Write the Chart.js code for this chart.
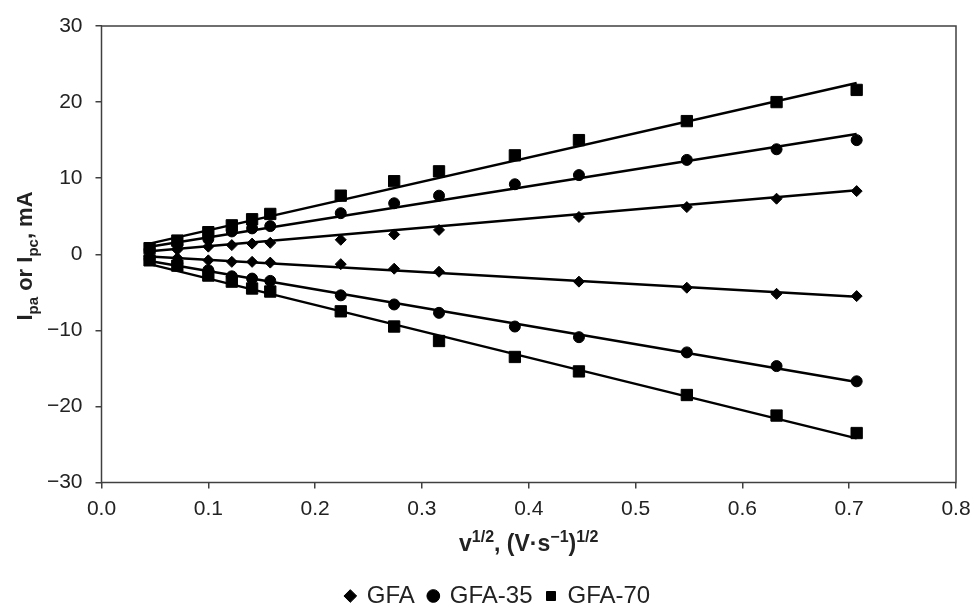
<!DOCTYPE html>
<html lang="en">
<head>
<meta charset="UTF-8">
<title>Ipa or Ipc vs v1/2</title>
<script src="https://cdn.jsdelivr.net/npm/chart.js@4"></script>
<style>
  body { margin: 0; background: #fff; }
  #wrap { width: 974px; height: 610px; }
</style>
</head>
<body>
<div id="wrap"><canvas id="myChart" width="974" height="610"></canvas></div>
<script>
// square root of scan rate, (V/s)^1/2
const xAll = [0.045, 0.071, 0.1, 0.122, 0.141, 0.158, 0.224, 0.274, 0.316, 0.387, 0.447, 0.548, 0.632, 0.707];
const xGfa = [0.045, 0.071, 0.1, 0.122, 0.141, 0.158, 0.224, 0.274, 0.316, 0.447, 0.548, 0.632, 0.707];

// peak currents, mA
const gfaIpa = [0.3, 0.6, 1.0, 1.2, 1.4, 1.5, 1.9, 2.6, 3.2, 4.9, 6.2, 7.3, 8.3];
const gfaIpc = [-0.3, -0.5, -0.8, -1.0, -1.0, -1.1, -1.3, -1.9, -2.3, -3.6, -4.4, -5.2, -5.5];
const gfa35Ipa = [0.6, 1.3, 2.0, 3.0, 3.4, 3.7, 5.4, 6.7, 7.7, 9.2, 10.4, 12.4, 13.8, 15.0];
const gfa35Ipc = [-0.6, -1.2, -2.1, -2.9, -3.2, -3.5, -5.4, -6.6, -7.7, -9.5, -10.9, -12.9, -14.7, -16.7];
const gfa70Ipa = [0.8, 1.8, 2.9, 3.8, 4.6, 5.3, 7.7, 9.6, 10.9, 13.0, 15.0, 17.5, 20.0, 21.6];
const gfa70Ipc = [-0.8, -1.5, -2.8, -3.6, -4.5, -4.9, -7.5, -9.5, -11.4, -13.5, -15.4, -18.5, -21.2, -23.5];

// linear trend lines, ends
const fitX = [0.045, 0.707];
const gfaIpaFit = [0.4, 8.4];
const gfaIpcFit = [-0.3, -5.6];
const gfa35IpaFit = [1.0, 15.8];
const gfa35IpcFit = [-0.9, -16.8];
const gfa70IpaFit = [1.4, 22.5];
const gfa70IpcFit = [-1.3, -24.2];

const seriesNames = ['GFA', 'GFA-35', 'GFA-70'];

function pts(xs, ys) {
  return xs.map((x, i) => ({ x: x, y: ys[i] }));
}

function markers(label, xs, up, down, style, r) {
  return {
    label: label,
    data: pts(xs, up).concat(pts(xs, down)),
    showLine: false,
    pointStyle: style,
    pointRadius: r,
    pointHoverRadius: r,
    backgroundColor: '#000',
    borderColor: '#000',
    borderWidth: 1
  };
}

function fitLine(ys) {
  return {
    label: '',
    data: pts(fitX, ys),
    showLine: true,
    pointRadius: 0,
    borderColor: '#000',
    borderWidth: 2.5,
    fill: false
  };
}

function drawRich(ctx, parts, x, y, size) {
  let total = 0;
  parts.forEach(p => {
    const s = p.k ? Math.round(size * 0.68) : size;
    p.font = 'bold ' + s + 'px "Liberation Sans", Arial, sans-serif';
    ctx.font = p.font;
    p.w = ctx.measureText(p.t).width;
    total += p.w;
  });
  let cx = x - total / 2;
  parts.forEach(p => {
    ctx.font = p.font;
    let dy = 0;
    if (p.k === 'sub') dy = size * 0.28;
    if (p.k === 'sup') dy = -size * 0.4;
    ctx.fillText(p.t, cx, y + dy);
    cx += p.w;
  });
}

const frame = {
  id: 'frame',
  afterLayout(chart) {
    // legend sits a bit right of centre in the original
    chart.legend.left += 20;
    chart.legend.right += 20;
  },
  beforeDatasetsDraw(chart) {
    const { ctx, chartArea: a } = chart;
    ctx.save();
    ctx.strokeStyle = '#404040';
    ctx.lineWidth = 1.5;
    ctx.strokeRect(a.left, a.top, a.right - a.left, a.bottom - a.top);
    ctx.restore();
  },
  afterDraw(chart) {
    const { ctx, chartArea: a } = chart;
    ctx.save();
    ctx.fillStyle = '#222';
    ctx.textBaseline = 'alphabetic';
    // x title
    drawRich(ctx, [
      { t: 'v' }, { t: '1/2', k: 'sup' }, { t: ', (V\u00b7s' }, { t: '\u22121', k: 'sup' },
      { t: ')' }, { t: '1/2', k: 'sup' }
    ], (a.left + a.right) / 2, 551, 23);
    // y title
    ctx.translate(32, 256);
    ctx.rotate(-Math.PI / 2);
    drawRich(ctx, [
      { t: 'I' }, { t: 'pa', k: 'sub' }, { t: ' or I' }, { t: 'pc', k: 'sub' }, { t: ', mA' }
    ], 0, 0, 22);
    ctx.restore();
  }
};

const ctx = document.getElementById('myChart').getContext('2d');
new Chart(ctx, {
  type: 'scatter',
  data: {
    datasets: [
      markers(seriesNames[0], xGfa, gfaIpa, gfaIpc, 'rectRot', 5.5),
      markers(seriesNames[1], xAll, gfa35Ipa, gfa35Ipc, 'circle', 5.5),
      markers(seriesNames[2], xAll, gfa70Ipa, gfa70Ipc, 'rect', 8),
      fitLine(gfaIpaFit),
      fitLine(gfaIpcFit),
      fitLine(gfa35IpaFit),
      fitLine(gfa35IpcFit),
      fitLine(gfa70IpaFit),
      fitLine(gfa70IpcFit)
    ]
  },
  options: {
    responsive: false,
    animation: false,
    devicePixelRatio: 1,
    layout: { padding: { top: 26, right: 18, bottom: -8, left: 0 } },
    plugins: {
      tooltip: { enabled: false },
      legend: {
        position: 'bottom',
        labels: {
          usePointStyle: true,
          boxWidth: 9,
          boxHeight: 9,
          padding: 14,
          color: '#222',
          font: { family: '"Liberation Sans", Arial, sans-serif', size: 24 },
          filter: item => item.text !== ''
        }
      }
    },
    scales: {
      x: {
        type: 'linear',
        min: 0,
        max: 0.8,
        ticks: {
          stepSize: 0.1,
          padding: 8,
          color: '#222',
          font: { family: '"Liberation Sans", Arial, sans-serif', size: 21 },
          callback: v => v.toFixed(1)
        },
        grid: { drawOnChartArea: false, tickLength: 6, color: '#404040', lineWidth: 1.5 },
        border: { display: false },
        afterFit: s => { s.height = 87.5; s.paddingLeft = 0; s.paddingRight = 0; }
      },
      y: {
        min: -30,
        max: 30,
        ticks: {
          stepSize: 10,
          padding: 13,
          color: '#222',
          font: { family: '"Liberation Sans", Arial, sans-serif', size: 21 },
          callback: v => String(v).replace('-', '\u2212')
        },
        grid: { drawOnChartArea: false, tickLength: 6, color: '#404040', lineWidth: 1.5 },
        border: { display: false },
        afterFit: s => { s.width = 101.5; s.paddingTop = 0; s.paddingBottom = 0; }
      }
    }
  },
  plugins: [frame]
});
</script>
</body>
</html>
